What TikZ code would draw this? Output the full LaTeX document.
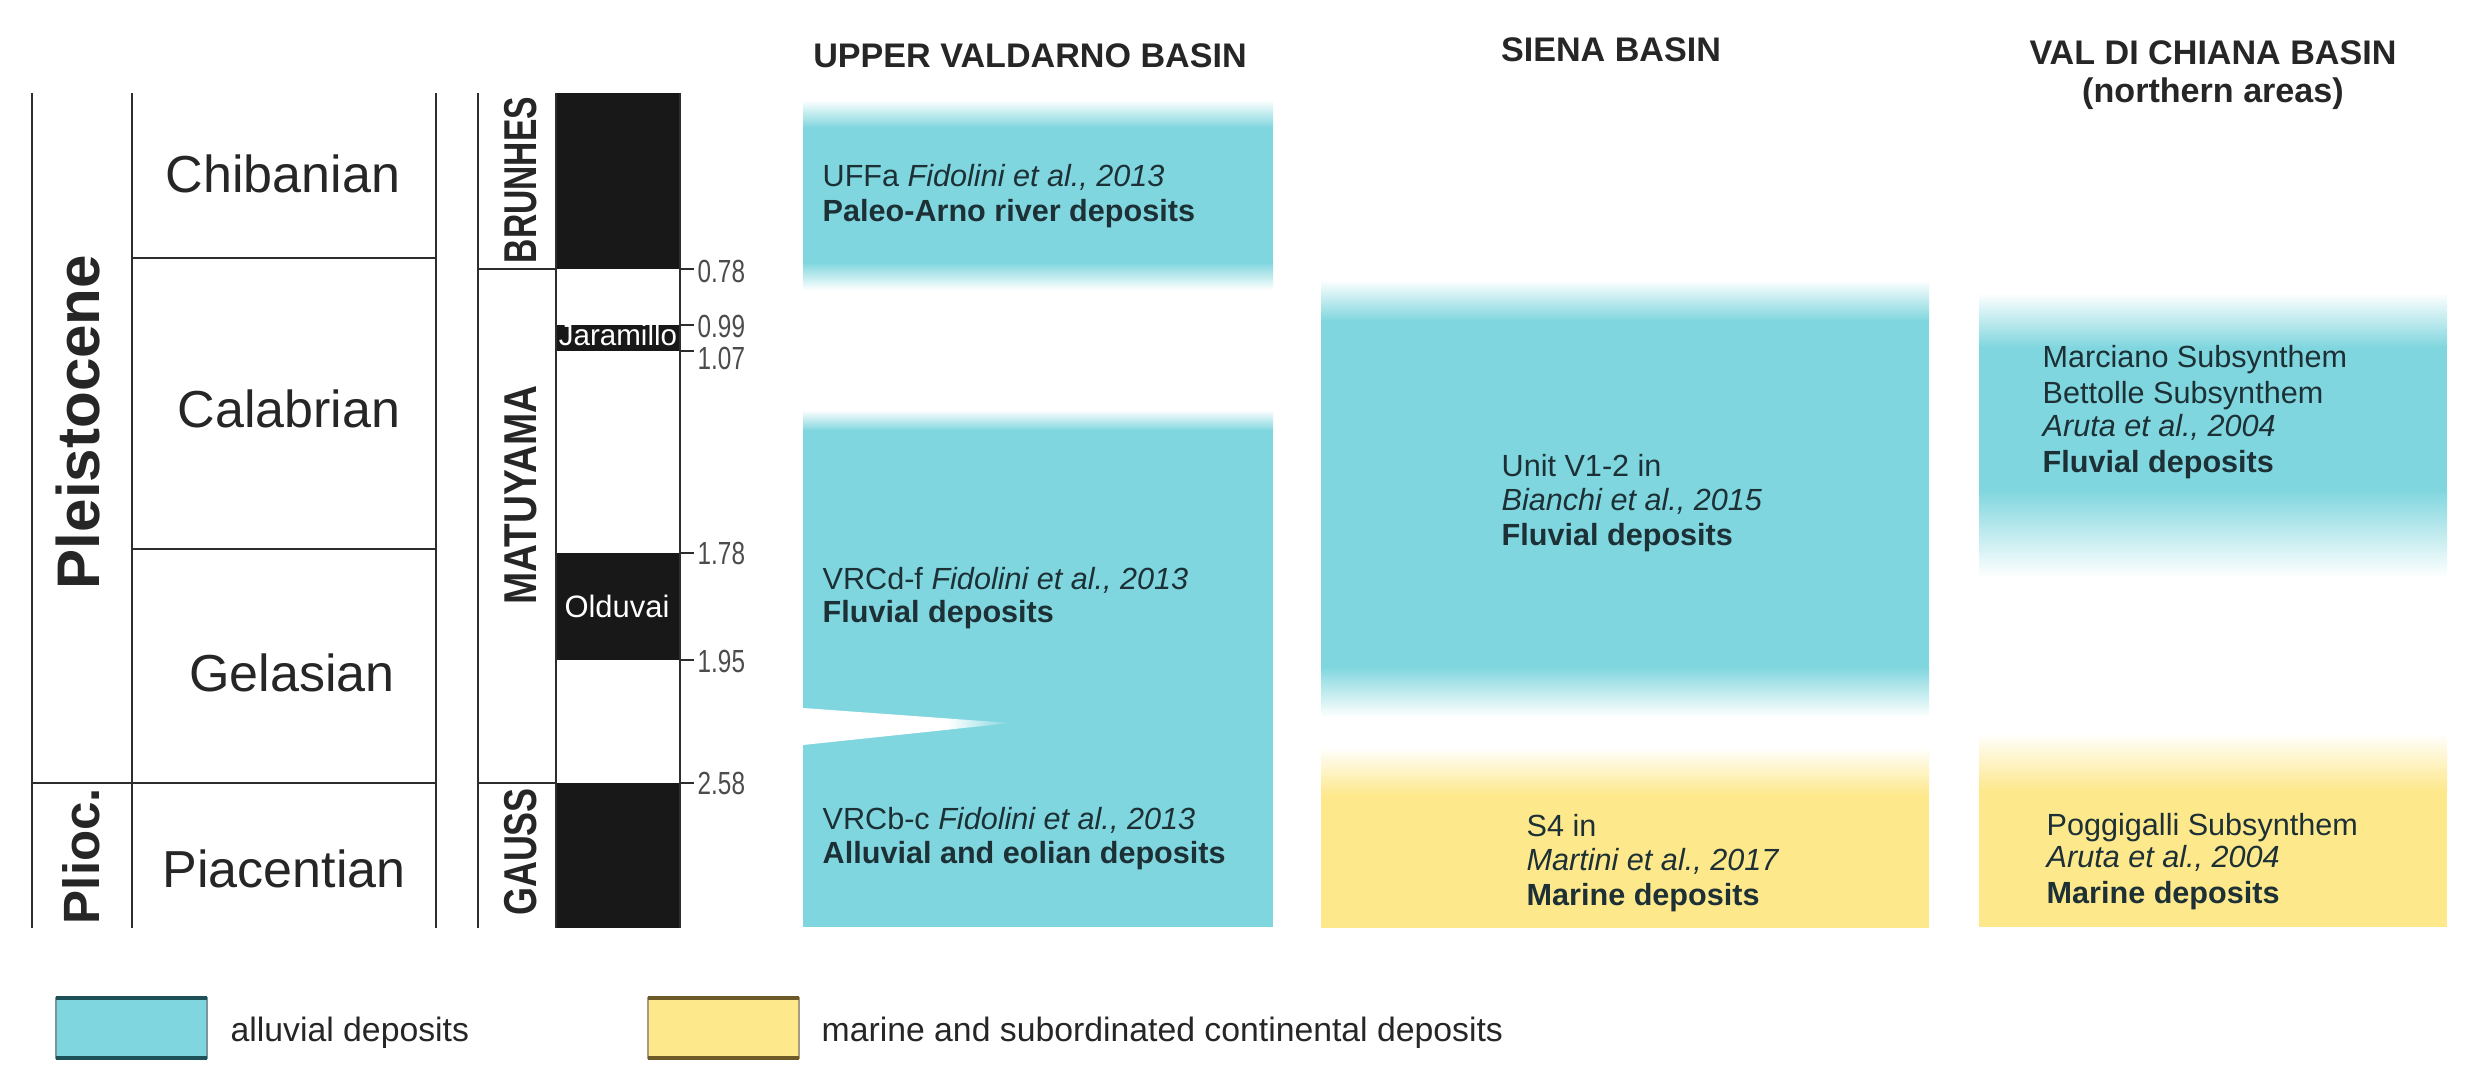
\documentclass[tikz,border=0pt]{standalone}
\usepackage{fontspec}
\setmainfont{Liberation Sans}
\usepackage{graphicx}
\definecolor{cy}{RGB}{128,214,222}
\definecolor{ye}{RGB}{253,232,140}
\definecolor{ln}{RGB}{45,45,45}
\definecolor{tx}{RGB}{28,48,54}
\definecolor{blk}{RGB}{24,24,24}
\definecolor{cyb}{RGB}{30,80,88}
\definecolor{yeb}{RGB}{110,90,40}
\begin{document}
\begin{tikzpicture}[x=0.01cm,y=-0.01cm,
  gl/.style={draw=ln, line width=0.8pt},
  el/.style={draw=ln, line width=0.55pt},
  stage/.style={font=\fontsize{14.8}{16}\selectfont, anchor=base, inner sep=0, text=black!85},
  epoch/.style={font=\fontsize{#1}{18}\selectfont\bfseries, anchor=base, inner sep=0, rotate=90, text=black!85},
  chron/.style={font=\fontsize{13.1}{15}\selectfont\bfseries, anchor=base, inner sep=0, rotate=90, text=black!85},
  tick/.style={font=\fontsize{9.1}{10}\selectfont, anchor=west, inner sep=0, text=black!70},
  inblk/.style={font=\fontsize{#1}{10}\selectfont, anchor=base, inner sep=0, text=white},
  title/.style={font=\fontsize{9.7}{11}\selectfont\bfseries, anchor=base, inner sep=0, text=black!85},
  body/.style={font=\fontsize{8.7}{10}\selectfont, anchor=base west, inner sep=0, text=tx},
  legtxt/.style={font=\fontsize{9.6}{11}\selectfont, anchor=base west, inner sep=0, text=black!85}]
\useasboundingbox[fill=white] (0,0) rectangle (2480,1082);

% ---------- Upper Valdarno column ----------
\shade[top color=white, bottom color=cy] (803,100) rectangle (1273,127.5);
\fill[cy] (803,127) rectangle (1273,263);
\shade[top color=cy, bottom color=white] (803,262.5) rectangle (1273,290);
\shade[top color=white, bottom color=cy] (803,410) rectangle (1273,430.5);
\fill[cy] (803,430) rectangle (1273,927);
% white wedge
\fill[white] (803,708) -- (948,718.5) -- (948,729.7) -- (803,745) -- cycle;
\shade[left color=white, right color=cy] (947.5,718.5) -- (1011,723) -- (947.5,729.7) -- cycle;

% ---------- Siena column ----------
\shade[top color=white, bottom color=cy] (1321,280) rectangle (1929,320.5);
\fill[cy] (1321,320) rectangle (1929,667);
\shade[top color=cy, bottom color=white] (1321,666.5) rectangle (1929,717);
\shade[top color=white, bottom color=ye] (1321,747) rectangle (1929,795.5);
\fill[ye] (1321,795) rectangle (1929,928);

% ---------- Val di Chiana column ----------
\shade[top color=white, bottom color=cy] (1979,293) rectangle (2447,347.5);
\fill[cy] (1979,347) rectangle (2447,490);
\shade[top color=cy, bottom color=white] (1979,489.5) rectangle (2447,577);
\shade[top color=white, bottom color=ye] (1979,733) rectangle (2447,790.5);
\fill[ye] (1979,790) rectangle (2447,927);

% ---------- chronostratigraphic table ----------
\draw[gl] (32,93) -- (32,928);
\draw[gl] (132,93) -- (132,928);
\draw[gl] (436,93) -- (436,928);
\draw[gl] (132,258) -- (436,258);
\draw[gl] (132,549) -- (436,549);
\draw[gl] (32,783) -- (436,783);

\node[epoch=17.1] (pleist) at (100,422) {Pleistocene};
\node[epoch=14.5] (plioc) at (100,856) {Plioc.};

\node[stage] (chib) at (283,193) {Chibanian};
\node[stage] (cala) at (289,428) {Calabrian};
\node[stage] (gela) at (292,692) {Gelasian};
\node[stage] (piac) at (284,887) {Piacentian};

% ---------- magnetostratigraphy ----------
\draw[gl] (478,93) -- (478,928);
\draw[gl] (478,269) -- (556,269);
\draw[gl] (478,783) -- (556,783);
\fill[blk] (556,93) rectangle (680,269);
\fill[blk] (556,325) rectangle (680,351);
\fill[blk] (556,553) rectangle (680,660);
\fill[blk] (556,783) rectangle (680,928);
\draw[el] (556,93) -- (556,928);
\draw[el] (680,93) -- (680,928);

\node[chron] (brun) at (536,180) {\scalebox{0.73}[1]{BRUNHES}};
\node[chron] (matu) at (536,495) {\scalebox{0.84}[1]{MATUYAMA}};
\node[chron] (gaus) at (536,852) {\scalebox{0.78}[1]{GAUSS}};

\node[inblk=8.4] (jara) at (618,346) {Jaramillo};
\node[inblk=8.8] (oldu) at (617,617) {Olduvai};

\foreach \yy/\lab/\ly in {269/0.78/271, 325/0.99/326, 351/1.07/358, 553/1.78/553, 660/1.95/661, 783/2.58/783}{
  \draw[el] (680,\yy) -- (694,\yy);
  \node[tick] at (697,\ly) {\scalebox{0.76}[1]{\lab}};
}

% ---------- titles ----------
\node[title] (t1) at (1030,68) {UPPER VALDARNO BASIN};
\node[title] (t2) at (1611,62) {SIENA BASIN};
\node[title] (t3) at (2213,65) {VAL DI CHIANA BASIN};
\node[title] (t3b) at (2213,103) {(northern areas)};

% ---------- column texts ----------
\node[body] (uv1) at (822,187) {UFFa \textit{Fidolini et al., 2013}};
\node[body] (uv2) at (822,222) {\textbf{Paleo-Arno river deposits}};
\node[body] (uv3) at (822,590) {VRCd-f \textit{Fidolini et al., 2013}};
\node[body] (uv4) at (822,623) {\textbf{Fluvial deposits}};
\node[body] (uv5) at (822,830) {VRCb-c \textit{Fidolini et al., 2013}};
\node[body] (uv6) at (822,863) {\textbf{Alluvial and eolian deposits}};

\node[body] (si1) at (1501,477) {Unit V1-2 in};
\node[body] (si2) at (1501,511) {\textit{Bianchi et al., 2015}};
\node[body] (si3) at (1501,545) {\textbf{Fluvial deposits}};
\node[body] (si4) at (1526,837) {S4 in};
\node[body] (si5) at (1526,870) {\textit{Martini et al., 2017}};
\node[body] (si6) at (1526,905) {\textbf{Marine deposits}};

\node[body] (vc1) at (2042,368) {Marciano Subsynthem};
\node[body] (vc2) at (2042,403) {Bettolle Subsynthem};
\node[body] (vc3) at (2042,437) {\textit{Aruta et al., 2004}};
\node[body] (vc4) at (2042,472) {\textbf{Fluvial deposits}};
\node[body] (vc5) at (2046,835) {Poggigalli Subsynthem};
\node[body] (vc6) at (2046,867) {\textit{Aruta et al., 2004}};
\node[body] (vc7) at (2046,903) {\textbf{Marine deposits}};

% ---------- legend ----------
\fill[cy] (56,998) rectangle (207,1058);
\draw[draw=cyb!60, line width=0.4pt] (56,998) rectangle (207,1058);
\draw[draw=cyb, line width=0.9pt] (56,998) -- (207,998) (56,1058) -- (207,1058);
\node[legtxt] (lg1) at (230,1041) {alluvial deposits};
\fill[ye] (648,998) rectangle (799,1058);
\draw[draw=yeb!60, line width=0.4pt] (648,998) rectangle (799,1058);
\draw[draw=yeb, line width=0.9pt] (648,998) -- (799,998) (648,1058) -- (799,1058);
\node[legtxt] (lg2) at (821,1041) {marine and subordinated continental deposits};
\end{tikzpicture}
\end{document}
